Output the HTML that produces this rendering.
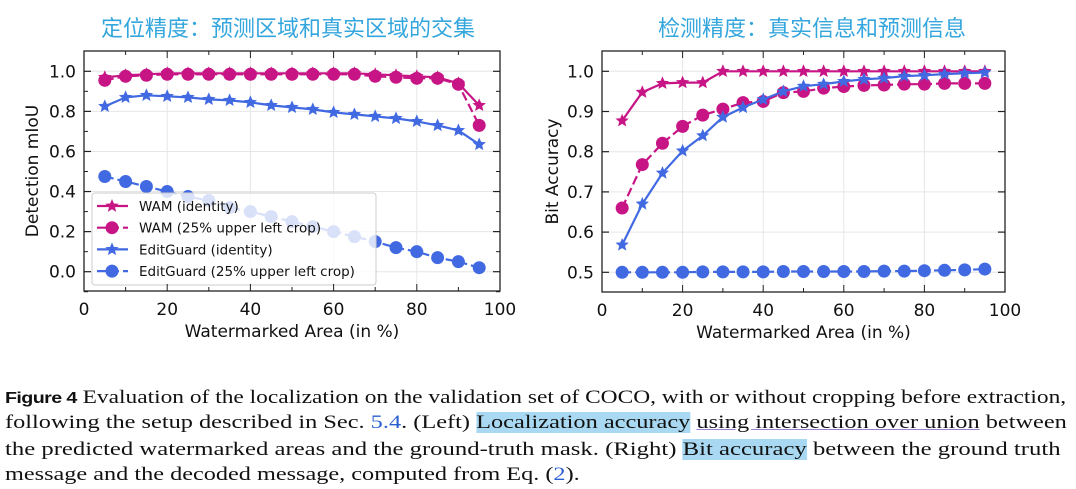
<!DOCTYPE html>
<html><head><meta charset="utf-8">
<style>
body{margin:0;width:1076px;height:489px;background:#fff;overflow:hidden;position:relative}
.cap{position:absolute;left:5px;font-family:"Liberation Serif",serif;font-size:19px;color:#111;white-space:nowrap;transform-origin:0 0}
.hl{background:#a9d9f2}
.b{font-family:"Liberation Sans",sans-serif;font-weight:bold;font-size:16px;letter-spacing:-0.5px}
.ln{color:#2a5fd0}
</style></head><body>
<svg id="s" width="1076" height="360" style="position:absolute;left:0;top:0" font-family="DejaVu Sans, Liberation Sans, sans-serif"></svg>
<div class="cap" style="top:387px;transform:scaleX(1.232)"><span class="b">Figure 4</span> Evaluation of the localization on the validation set of COCO, with or without cropping before extraction,</div>
<div class="cap" style="top:412px;transform:scaleX(1.281)">following the setup described in Sec. <span class="ln">5.4</span>. (Left) <span class="hl">Localization accuracy</span> <span style="text-decoration:underline;text-decoration-color:#9a7fd0">using intersection over union</span> between</div>
<div class="cap" style="top:439px;transform:scaleX(1.30)">the predicted watermarked areas and the ground-truth mask. (Right) <span class="hl">Bit accuracy</span> between the ground truth</div>
<div class="cap" style="top:464px;transform:scaleX(1.277)">message and the decoded message, computed from Eq. (<span class="ln">2</span>).</div>
<script>
const S=document.getElementById('s');let h='';
const M='#c71585',B='#4169e1';
const xs=[];for(let i=5;i<=95;i+=5)xs.push(i);
function star(cx,cy,r){let p=[];for(let i=0;i<10;i++){const a=-Math.PI/2+i*Math.PI/5,rr=i%2?r*0.45:r;p.push((cx+rr*Math.cos(a)).toFixed(1)+','+(cy+rr*Math.sin(a)).toFixed(1));}return p.join(' ');}
function plot(o){
 const X=v=>o.x0+(v)*(o.x1-o.x0)/100, Y=v=>o.yA+(v-o.vA)*(o.yB-o.yA)/(o.vB-o.vA);
 for(const t of o.yt){h+=`<line x1="${o.x0}" x2="${o.x1}" y1="${Y(t)}" y2="${Y(t)}" stroke="#e6e6e6"/>`;}
 for(let t=20;t<100;t+=20){h+=`<line y1="${o.t}" y2="${o.b}" x1="${X(t)}" x2="${X(t)}" stroke="#e6e6e6"/>`;}
 for(const s of o.series){
  const pts=xs.map((x,i)=>X(x).toFixed(1)+','+Y(s.d[i]).toFixed(1)).join(' ');
  h+=`<polyline points="${pts}" fill="none" stroke="${s.c}" stroke-width="2.2" ${s.dash?'stroke-dasharray="9,4"':''}/>`;
  xs.forEach((x,i)=>{ if(s.m=='o')h+=`<circle cx="${X(x)}" cy="${Y(s.d[i])}" r="6.5" fill="${s.c}"/>`; else h+=`<polygon points="${star(X(x),Y(s.d[i]),7)}" fill="${s.c}"/>`;});
 }
 if(o.legend)h+=o.legend;
 h+=`<rect x="${o.x0}" y="${o.t}" width="${o.x1-o.x0}" height="${o.b-o.t}" fill="none" stroke="#222" stroke-width="1.3"/>`;
 for(const t of o.yt){const y=Y(t);h+=`<line x1="${o.x0}" x2="${o.x0+7}" y1="${y}" y2="${y}" stroke="#222" stroke-width="1.2"/><line x1="${o.x1}" x2="${o.x1-7}" y1="${y}" y2="${y}" stroke="#222" stroke-width="1.2"/>`;
  h+=`<text x="${o.x0-8}" y="${y+6}" text-anchor="end" font-size="17" fill="#111">${t.toFixed(1)}</text>`;}
 for(const t of o.ym){const y=Y(t);h+=`<line x1="${o.x0}" x2="${o.x0+4}" y1="${y}" y2="${y}" stroke="#222"/><line x1="${o.x1}" x2="${o.x1-4}" y1="${y}" y2="${y}" stroke="#222"/>`;}
 for(let t=0;t<=100;t+=10){const x=X(t),L=t%20?4:7;h+=`<line x1="${x}" x2="${x}" y1="${o.b}" y2="${o.b-L}" stroke="#222"/><line x1="${x}" x2="${x}" y1="${o.t}" y2="${o.t+L}" stroke="#222"/>`;
  if(t%20==0)h+=`<text x="${x}" y="${o.b+24}" text-anchor="middle" font-size="17" fill="#111">${t}</text>`;}
 h+=`<text x="${(o.x0+o.x1)/2}" y="${o.b+46}" text-anchor="middle" font-size="17" fill="#111">Watermarked Area (in %)</text>`;
 h+=`<text transform="translate(${o.yl},${(o.t+o.b)/2}) rotate(-90)" text-anchor="middle" font-size="17" fill="#111">${o.ylab}</text>`;
 h+=`<text x="${o.tx}" y="36" text-anchor="middle" font-size="22" fill="#33a6dd" font-family="Noto Sans CJK SC, sans-serif">${o.title}</text>`;
}
let leg=`<rect x="92" y="193" width="284" height="92" rx="3" fill="#fff" fill-opacity="0.8" stroke="#ccc"/>`;
const L=[[M,'*',0,'WAM (identity)'],[M,'o',1,'WAM (25% upper left crop)'],[B,'*',0,'EditGuard (identity)'],[B,'o',1,'EditGuard (25% upper left crop)']];
L.forEach((l,i)=>{const y=206+i*21.7;leg+=`<line x1="97" x2="128" y1="${y}" y2="${y}" stroke="${l[0]}" stroke-width="2.2" ${l[2]?'stroke-dasharray="9,4"':''}/>`;
 leg+=l[1]=='o'?`<circle cx="112" cy="${y}" r="6.5" fill="${l[0]}"/>`:`<polygon points="${star(112,y,7)}" fill="${l[0]}"/>`;
 leg+=`<text x="139" y="${y+5}" font-size="13.5" fill="#111">${l[3]}</text>`;});
plot({x0:84,x1:500,t:51,b:291,yA:71.3,vA:1,yB:271.7,vB:0,yt:[0,.2,.4,.6,.8,1],ym:[-.1,.1,.3,.5,.7,.9],yl:38,ylab:'Detection mIoU',tx:288,title:'定位精度：预测区域和真实区域的交集',legend:leg,
series:[
{c:B,m:'o',dash:1,d:[.475,.45,.425,.40,.375,.355,.32,.30,.275,.25,.225,.20,.175,.15,.12,.10,.07,.05,.02]},
{c:B,m:'*',d:[.825,.87,.88,.875,.87,.86,.855,.845,.83,.82,.81,.795,.785,.775,.765,.75,.73,.705,.635]},
{c:M,m:'o',dash:1,d:[.955,.975,.98,.985,.985,.985,.985,.985,.985,.985,.985,.985,.985,.975,.97,.965,.965,.935,.73]},
{c:M,m:'*',d:[.97,.98,.985,.99,.99,.99,.99,.99,.99,.99,.99,.99,.99,.985,.98,.975,.97,.94,.83]}]});
plot({x0:602,x1:1005,t:51,b:292,yA:71.3,vA:1,yB:272.3,vB:.5,yt:[.5,.6,.7,.8,.9,1],ym:[],yl:558,ylab:'Bit Accuracy',tx:812,title:'检测精度：真实信息和预测信息',
series:[
{c:B,m:'o',dash:1,d:[.5,.5,.5,.5,.501,.501,.501,.501,.502,.502,.502,.502,.502,.503,.503,.504,.505,.506,.508]},
{c:M,m:'o',dash:1,d:[.66,.768,.821,.863,.891,.906,.922,.925,.947,.95,.958,.962,.965,.966,.968,.968,.97,.97,.97]},
{c:M,m:'*',d:[.877,.948,.97,.972,.972,1,1,1,1,1,1,1,1,1,1,1,1,1,1]},
{c:B,m:'*',d:[.568,.67,.747,.802,.84,.886,.91,.93,.95,.963,.968,.975,.98,.983,.988,.99,.993,.995,.997]}]});
S.innerHTML=h;
</script>
</body></html>
